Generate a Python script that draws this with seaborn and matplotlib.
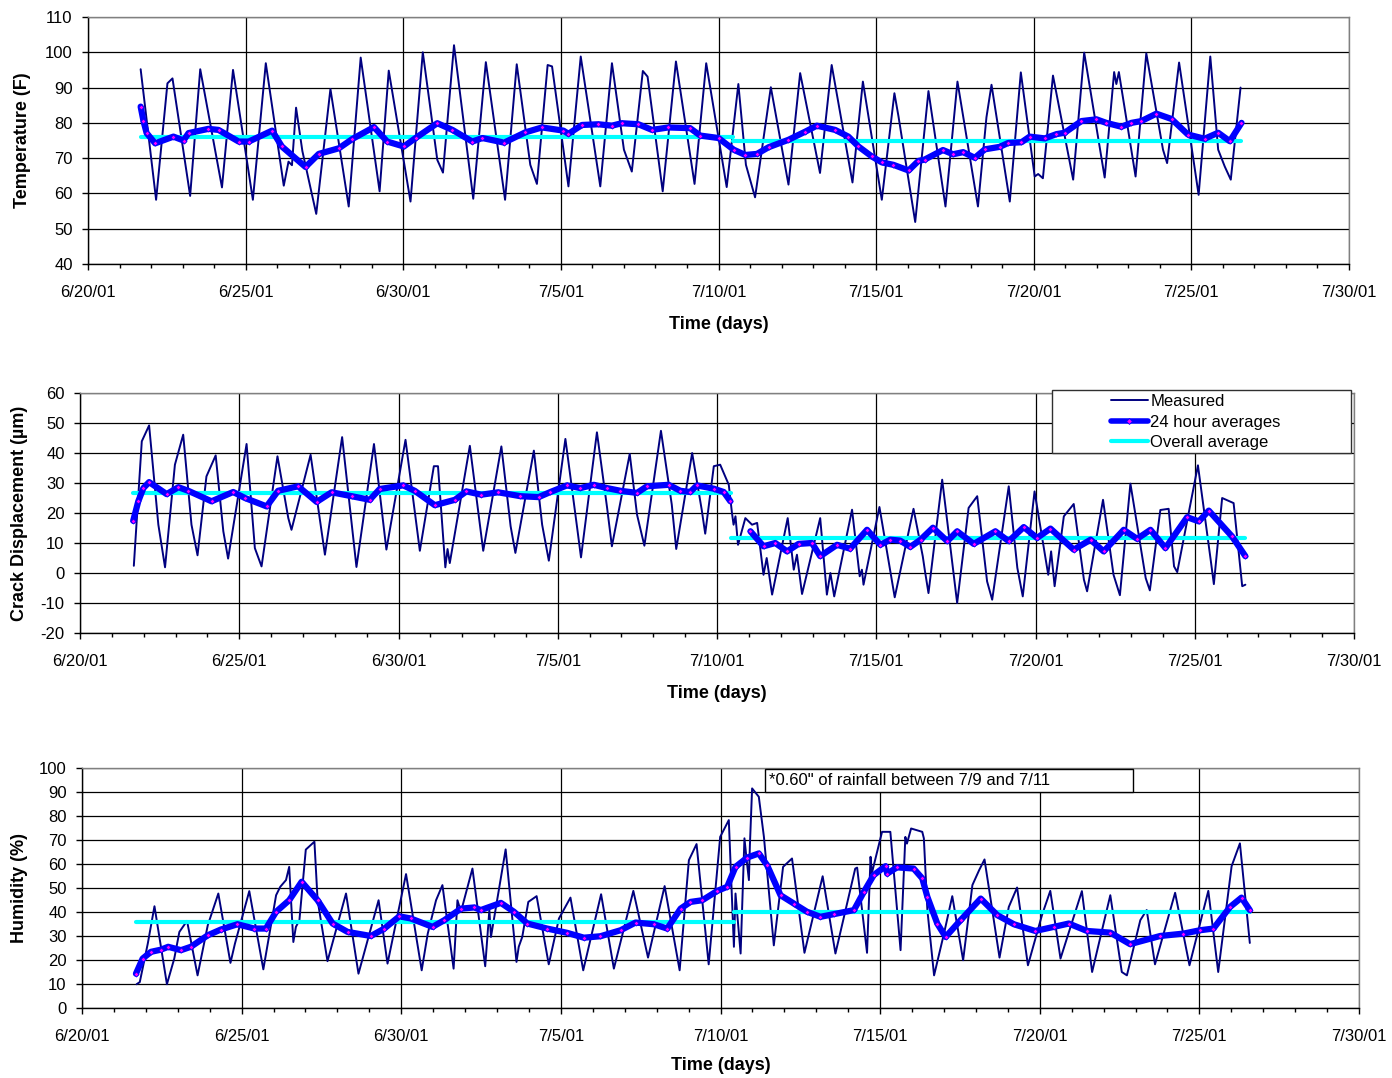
import numpy as np
import pandas as pd
import matplotlib
matplotlib.use("Agg")
import matplotlib.pyplot as plt
from matplotlib.patches import Rectangle
from matplotlib.lines import Line2D
import seaborn as sns

# ---------------- data (days after 6/20/01) ----------------
START = "2001-06-20"
x_tick_labels = ["6/20/01", "6/25/01", "6/30/01", "7/5/01", "7/10/01",
                 "7/15/01", "7/20/01", "7/25/01", "7/30/01"]

temp_yticks = [40, 50, 60, 70, 80, 90, 100, 110]
crack_yticks = [-20, -10, 0, 10, 20, 30, 40, 50, 60]
hum_yticks = [0, 10, 20, 30, 40, 50, 60, 70, 80, 90, 100]

# Temperature - measured (peaks / troughs / shoulders)
temp_meas_day = [1.67, 2.16, 2.52, 2.68, 3.24, 3.56, 4.25, 4.60, 5.23, 5.64, 6.21, 6.36, 6.47,
                 6.60, 6.80, 7.24, 7.69, 8.27, 8.65, 9.25, 9.54, 10.23, 10.62, 11.08, 11.26,
                 11.61, 12.22, 12.62, 13.23, 13.60, 14.03, 14.24, 14.58, 14.72, 15.24, 15.63,
                 16.25, 16.62, 17.00, 17.25, 17.60, 17.75, 18.23, 18.65, 19.24, 19.61, 20.26,
                 20.63, 20.87, 21.16, 21.66, 22.22, 22.59, 23.22, 23.59, 24.25, 24.58, 25.18,
                 25.58, 25.71, 26.24, 26.66, 27.20, 27.58, 28.23, 28.50, 28.66, 29.24, 29.59,
                 30.03, 30.14, 30.29, 30.61, 31.25, 31.60, 32.25, 32.55, 32.62, 32.70, 33.23,
                 33.57, 34.10, 34.23, 34.61, 35.23, 35.60, 35.85, 36.06, 36.25, 36.56]
temp_meas_val = [95.2, 58.2, 91.2, 92.6, 59.3, 95.2, 61.7, 95.0, 58.2, 96.9, 62.2, 69.0, 68.0,
                 84.3, 72.0, 54.2, 89.6, 56.3, 98.5, 60.6, 94.8, 57.7, 100.0, 69.5, 65.9,
                 102.0, 58.5, 97.2, 58.2, 96.6, 68.1, 62.7, 96.4, 96.0, 62.0, 98.8,
                 62.0, 96.9, 72.4, 66.2, 94.7, 93.1, 60.6, 97.4, 62.7, 96.9, 61.8,
                 91.0, 68.1, 58.9, 90.1, 62.5, 94.1, 65.8, 96.4, 63.1, 91.7, 58.2,
                 88.4, 81.8, 51.9, 89.0, 56.3, 91.7, 56.3, 81.6, 90.8, 57.7, 94.3,
                 64.8, 65.5, 64.3, 93.4, 63.9, 99.9, 64.5, 94.4, 91.0, 94.4, 64.8,
                 99.7, 72.4, 68.6, 97.1, 59.6, 98.8, 72.4, 67.6, 63.9, 90.0]

# Temperature - 24 hour averages
temp_avg_day = [1.67, 1.76, 1.86, 2.13, 2.71, 3.03, 3.19, 3.82, 4.14, 4.78, 5.10, 5.84, 6.15,
                6.90, 7.32, 7.96, 8.38, 9.07, 9.49, 10.02, 10.39, 11.08, 11.56, 12.19, 12.51,
                13.20, 13.87, 14.40, 15.08, 15.24, 15.67, 16.19, 16.62, 16.93, 17.46, 17.89,
                18.41, 19.10, 19.42, 20.00, 20.48, 20.85, 21.22, 21.59, 22.22, 22.75, 23.12,
                23.70, 24.12, 24.44, 24.86, 25.18, 25.55, 26.03, 26.34, 26.54, 27.12, 27.44,
                27.76, 28.13, 28.45, 28.92, 29.19, 29.61, 29.87, 30.35, 30.72, 30.98, 31.51,
                31.99, 32.30, 32.78, 33.10, 33.41, 33.89, 34.37, 34.89, 35.42, 35.85, 36.22,
                36.59]
temp_avg_val = [84.6, 80.5, 77.1, 74.2, 76.1, 75.0, 77.1, 78.3, 78.0, 74.7, 74.7, 77.8, 73.3,
                67.5, 71.2, 72.8, 75.4, 78.8, 74.7, 73.3, 75.7, 79.9, 78.0, 74.7, 75.7,
                74.4, 77.3, 78.7, 77.8, 76.9, 79.4, 79.6, 79.2, 79.9, 79.6, 78.0,
                78.7, 78.5, 76.4, 75.7, 72.4, 70.9, 71.2, 73.1, 75.2, 77.5, 79.2,
                78.0, 76.1, 73.3, 70.5, 68.8, 68.1, 66.5, 69.2, 69.6, 72.3, 71.1,
                71.7, 70.1, 72.5, 73.2, 74.3, 74.5, 76.1, 75.6, 76.8, 77.2, 80.5,
                81.0, 80.0, 78.9, 80.0, 80.5, 82.6, 81.1, 76.7, 75.5, 77.2, 74.8,
                80.0]

# Temperature - overall averages (two periods)
temp_overall_day = [[1.67, 20.45], [20.45, 36.59]]
temp_overall_val = [76.1, 74.9]

# Crack displacement - measured
crack_meas_day = [1.69, 1.94, 2.17, 2.46, 2.67, 2.98, 3.24, 3.50, 3.69, 3.97, 4.26, 4.50, 4.65,
                  5.23, 5.49, 5.70, 6.20, 6.54, 6.64, 7.24, 7.69, 8.23, 8.68, 9.23, 9.62,
                  10.22, 10.67, 11.11, 11.24, 11.47, 11.54, 11.61, 12.24, 12.66, 13.23, 13.52,
                  13.67, 14.25, 14.51, 14.72, 15.24, 15.61, 15.73, 16.23, 16.55, 16.70, 17.26,
                  17.49, 17.72, 18.24, 18.58, 18.72, 19.22, 19.52, 19.63, 19.90, 20.10, 20.37,
                  20.47, 20.52, 20.58, 20.66, 20.89, 21.10, 21.26, 21.46, 21.56, 21.73, 22.22,
                  22.41, 22.51, 22.67, 23.24, 23.45, 23.56, 23.68, 24.24, 24.48, 24.55, 24.60,
                  25.10, 25.58, 26.17, 26.46, 26.53, 26.64, 27.07, 27.54, 27.90, 28.17, 28.48,
                  28.64, 29.16, 29.43, 29.60, 29.97, 30.40, 30.49, 30.60, 30.89, 31.20, 31.52,
                  31.62, 32.12, 32.45, 32.65, 32.98, 33.46, 33.59, 33.92, 34.18, 34.35, 34.45,
                  35.10, 35.50, 35.60, 35.86, 36.22, 36.49, 36.59]
crack_meas_val = [2.4, 43.9, 49.2, 16.1, 1.9, 36.1, 46.1, 16.1, 5.9, 32.2, 39.2, 13.9, 4.8,
                  43.0, 8.3, 2.2, 38.9, 18.3, 14.4, 39.4, 6.1, 45.3, 2.0, 43.0, 7.8,
                  44.4, 7.4, 35.6, 35.6, 1.9, 8.0, 3.3, 42.4, 7.4, 42.2, 15.6,
                  6.7, 40.8, 16.1, 4.1, 44.7, 15.0, 5.2, 46.9, 21.7, 8.9, 39.7,
                  19.4, 9.1, 47.4, 22.8, 8.0, 40.0, 21.1, 13.1, 35.6, 36.1, 29.4,
                  20.0, 16.1, 18.9, 9.4, 18.3, 16.1, 16.7, -0.6, 5.0, -7.2, 18.3,
                  1.1, 6.1, -7.0, 18.3, -7.2, 0.0, -7.8, 21.1, -1.1, 1.1, -3.9,
                  22.0, -8.1, 21.4, 5.6, 0.6, -6.7, 31.1, -10.0, 21.7, 25.6, -2.8,
                  -8.9, 28.9, 1.7, -7.8, 27.2, -0.6, 7.2, -4.4, 18.9, 23.0, -2.2,
                  -6.1, 24.4, -0.6, -7.4, 29.8, -1.7, -5.8, 21.0, 21.4, 2.2, 0.3,
                  35.9, 4.4, -3.7, 25.0, 23.3, -4.4, -3.9]

# Crack displacement - 24 hour averages (two periods, gap between)
crack_avg1_day = [1.67, 1.83, 1.99, 2.17, 2.72, 3.09, 3.40, 4.13, 4.81, 5.18, 5.86, 6.22, 6.85,
                  7.43, 7.90, 8.53, 9.10, 9.41, 10.15, 10.51, 11.14, 11.77, 12.13, 12.60, 13.13,
                  13.83, 14.40, 14.77, 15.29, 15.71, 16.13, 16.55, 16.97, 17.49, 17.80, 18.48,
                  18.85, 19.16, 19.37, 19.90, 20.21, 20.42]
crack_avg1_val = [17.4, 23.9, 28.3, 30.3, 26.3, 28.6, 27.4, 23.9, 27.0, 25.0, 22.2, 27.4, 28.9,
                  23.7, 26.9, 25.6, 24.4, 28.0, 29.2, 27.4, 22.6, 24.4, 27.2, 26.1, 26.9,
                  25.6, 25.3, 27.0, 29.2, 28.3, 29.4, 28.3, 27.4, 26.7, 28.9, 29.4,
                  27.4, 27.0, 29.2, 28.1, 27.0, 23.9]
crack_avg2_day = [21.05, 21.46, 21.83, 22.20, 22.56, 22.98, 23.24, 23.77, 24.18, 24.71, 25.13,
                  25.44, 25.75, 26.07, 26.39, 26.78, 27.23, 27.54, 28.06, 28.74, 29.16, 29.63,
                  30.05, 30.47, 31.20, 31.73, 32.14, 32.77, 33.19, 33.61, 34.08, 34.76, 35.13,
                  35.44, 36.17, 36.59]
crack_avg2_val = [13.9, 8.9, 10.0, 7.2, 9.7, 10.0, 5.6, 9.4, 8.1, 14.4, 9.4,
                  11.1, 10.8, 8.7, 11.1, 15.1, 10.6, 13.9, 9.7, 13.9, 10.6, 15.3,
                  11.7, 14.8, 7.8, 11.1, 7.2, 14.4, 11.4, 14.4, 8.3, 18.6, 17.2,
                  20.8, 12.2, 5.6]

crack_overall_day = [[1.67, 20.45], [20.45, 36.59]]
crack_overall_val = [26.7, 11.7]

# Humidity - measured
hum_meas_day = [1.71, 1.81, 2.06, 2.27, 2.66, 2.89, 3.05, 3.29, 3.62, 3.94, 4.27, 4.65, 4.79,
                5.24, 5.68, 6.08, 6.21, 6.39, 6.49, 6.62, 6.70, 6.81, 7.01, 7.28, 7.38,
                7.69, 8.27, 8.66, 9.29, 9.57, 10.15, 10.64, 10.83, 11.09, 11.29, 11.64,
                11.76, 11.87, 12.23, 12.63, 12.76, 12.81, 13.27, 13.61, 13.68, 13.79, 13.98,
                14.24, 14.62, 14.94, 15.30, 15.70, 16.26, 16.66, 17.27, 17.73, 18.25, 18.72,
                19.01, 19.25, 19.63, 19.99, 20.26, 20.42, 20.47, 20.63, 20.75, 20.82, 20.89,
                20.92, 20.99, 21.20, 21.36, 21.67, 21.96, 22.24, 22.63, 23.20, 23.60, 24.22,
                24.28, 24.59, 24.70, 24.74, 25.06, 25.32, 25.64, 25.79, 25.84, 25.97, 26.32,
                26.37, 26.48, 26.69, 27.00, 27.26, 27.60, 27.89, 28.10, 28.27, 28.74, 29.03,
                29.29, 29.63, 30.07, 30.33, 30.65, 31.32, 31.64, 32.21, 32.57, 32.73, 33.15,
                33.35, 33.61, 34.24, 34.69, 35.28, 35.59, 36.01, 36.27, 36.58]
hum_meas_val = [9.9, 10.8, 26.8, 42.4, 9.9, 20.6, 31.7, 36.3, 13.6, 34.5, 47.7, 18.8, 26.8,
                48.7, 16.1, 47.0, 50.5, 53.3, 58.8, 27.5, 33.8, 36.6, 66.0, 69.3, 44.9,
                19.5, 47.7, 14.3, 44.9, 18.5, 55.8, 15.7, 31.0, 44.9, 51.2, 16.4,
                44.9, 40.1, 58.1, 17.4, 40.8, 29.6, 66.1, 19.2, 25.5, 29.6, 44.2,
                46.6, 18.2, 37.3, 46.0, 15.7, 47.4, 16.4, 48.8, 21.0, 50.8, 15.7,
                61.6, 68.3, 18.2, 71.3, 78.3, 25.5, 47.7, 22.7, 70.7, 61.6, 53.3,
                67.5, 91.5, 88.0, 71.3, 26.1, 58.8, 62.3, 23.0, 54.9, 22.7, 58.1,
                58.5, 23.0, 63.0, 56.1, 73.4, 73.4, 24.1, 71.3, 68.5, 74.8, 73.4,
                70.7, 40.8, 13.6, 31.0, 46.6, 19.9, 51.2, 57.4, 61.9, 21.0, 42.1,
                50.2, 17.8, 38.7, 48.8, 20.6, 48.7, 15.0, 47.0, 15.0, 13.6, 36.6,
                40.8, 18.2, 48.0, 17.8, 48.8, 15.0, 59.1, 68.6, 27.1]

# Humidity - 24 hour averages
hum_avg_day = [1.69, 1.90, 2.16, 2.47, 2.70, 3.10, 3.41, 3.94, 4.35, 4.87, 5.40, 5.76, 6.08,
               6.49, 6.88, 7.38, 7.85, 8.32, 9.05, 9.47, 9.94, 10.30, 10.98, 11.35, 11.87,
               12.29, 12.49, 13.12, 13.53, 13.95, 14.57, 15.20, 15.72, 16.24, 16.87, 17.34,
               17.91, 18.33, 18.75, 19.06, 19.43, 19.90, 20.21, 20.47, 20.84, 21.20, 21.46,
               21.88, 22.30, 22.71, 23.13, 23.55, 24.18, 24.49, 24.80, 25.17, 25.22, 25.53,
               26.05, 26.32, 26.48, 26.79, 27.05, 27.52, 28.15, 28.67, 29.19, 29.86, 30.44,
               30.91, 31.48, 32.21, 32.83, 33.77, 34.50, 35.02, 35.44, 35.96, 36.32, 36.58]
hum_avg_val = [14.3, 20.6, 23.4, 24.3, 25.5, 24.1, 25.5, 30.3, 32.7, 34.9, 33.1, 33.1, 40.1,
               44.9, 52.6, 44.9, 35.2, 31.7, 30.0, 33.1, 38.2, 37.3, 33.8, 36.6, 41.4,
               41.9, 40.8, 43.8, 40.1, 35.2, 33.1, 31.3, 29.3, 29.9, 32.4, 35.6,
               34.9, 33.1, 41.4, 44.2, 44.9, 48.8, 50.5, 58.8, 62.7, 64.4, 59.5,
               47.0, 43.5, 40.1, 38.0, 39.1, 40.8, 48.4, 55.4, 59.1, 56.0, 58.6,
               58.1, 54.0, 46.3, 35.2, 29.6, 36.6, 45.6, 38.7, 34.9, 32.1, 33.8,
               35.2, 32.1, 31.4, 26.6, 30.0, 31.0, 32.4, 33.1, 42.1, 46.0, 40.8]

hum_overall_day = [[1.69, 20.42], [20.42, 36.58]]
hum_overall_val = [36.0, 40.1]

legend_labels = ["Measured", "24 hour averages", "Overall average"]
note_text = '*0.60" of rainfall between 7/9 and 7/11'

# ---------------- styling ----------------
NAVY = "#000080"
BLUE = "#0000FF"
MAGENTA = "#FF00FF"
CYAN = "#00FFFF"

sns.set_theme(style="white")
plt.rcParams["font.family"] = ["Liberation Sans", "DejaVu Sans"]
plt.rcParams["axes.unicode_minus"] = False

base = pd.Timestamp(START)


def to_dates(days):
    return base + pd.to_timedelta(np.asarray(days, dtype=float), unit="D")


fig = plt.figure(figsize=(13.92, 10.78), dpi=100)
fig.patch.set_facecolor("white")

W, H = 1392.0, 1078.0
boxes = [(88, 17, 1349, 264), (80, 393, 1354, 633), (82, 768, 1359, 1008)]
axes = []
for (l, t, r, b) in boxes:
    axes.append(fig.add_axes([l / W, 1 - b / H, (r - l) / W, (b - t) / H]))

major_dates = pd.to_datetime(x_tick_labels, format="%m/%d/%y")
minor_dates = pd.date_range(major_dates[0], major_dates[-1], freq="D")


def draw_panel(ax, meas_d, meas_v, avg_parts, overall_d, overall_v, yticks, ylabel,
               ylab_x, xlab_y):
    sns.lineplot(x=to_dates(meas_d), y=meas_v, ax=ax, color=NAVY, linewidth=1.4,
                 estimator=None, sort=False, zorder=2)
    for seg_d, seg_v in zip(overall_d, overall_v):
        sns.lineplot(x=to_dates(seg_d), y=[seg_v, seg_v], ax=ax, color=CYAN,
                     linewidth=3.0, estimator=None, sort=False, zorder=3)
    for d, v in avg_parts:
        sns.lineplot(x=to_dates(d), y=v, ax=ax, color=BLUE, linewidth=4.5,
                     estimator=None, sort=False, zorder=4, marker="D",
                     markersize=2.6, markerfacecolor=MAGENTA,
                     markeredgecolor=BLUE, markeredgewidth=0.6)
    ax.set_xlim(major_dates[0], major_dates[-1])
    ax.set_ylim(yticks[0], yticks[-1])
    ax.set_yticks(yticks)
    ax.set_xticks(major_dates)
    ax.set_xticklabels(x_tick_labels)
    ax.set_xticks(minor_dates, minor=True)
    ax.grid(True, which="major", axis="both", color="#000000", linewidth=0.9)
    ax.set_axisbelow(True)
    for s in ["left", "bottom"]:
        ax.spines[s].set_color("black")
        ax.spines[s].set_linewidth(1.0)
    for s in ["top", "right"]:
        ax.spines[s].set_color("#808080")
        ax.spines[s].set_linewidth(1.0)
    ax.tick_params(axis="both", which="major", direction="out", length=4, width=1,
                   color="black", labelsize=12, labelcolor="black")
    ax.tick_params(axis="x", which="major", pad=11)
    ax.tick_params(axis="y", which="major", pad=7, left=True)
    ax.tick_params(axis="x", which="minor", direction="out", length=3, width=1,
                   color="black", bottom=True)
    ax.tick_params(axis="x", bottom=True)
    ax.set_xlabel("Time (days)", fontsize=13, fontweight="bold", color="black")
    ax.set_ylabel(ylabel, fontsize=13, fontweight="bold", color="black")
    ax.xaxis.set_label_coords(0.5, xlab_y)
    ax.xaxis.label.set_va("top")
    ax.yaxis.set_label_coords(ylab_x, 0.5)


draw_panel(axes[0], temp_meas_day, temp_meas_val, [(temp_avg_day, temp_avg_val)],
           temp_overall_day, temp_overall_val, temp_yticks, "Temperature (F)",
           (31 - 88) / 1261, -0.21)
draw_panel(axes[1], crack_meas_day, crack_meas_val,
           [(crack_avg1_day, crack_avg1_val), (crack_avg2_day, crack_avg2_val)],
           crack_overall_day, crack_overall_val, crack_yticks,
           "Crack Displacement (\u00b5m)", (28 - 80) / 1274, -0.217)
draw_panel(axes[2], hum_meas_day, hum_meas_val, [(hum_avg_day, hum_avg_val)],
           hum_overall_day, hum_overall_val, hum_yticks, "Humidity (%)",
           (28 - 82) / 1277, -0.205)

# Legend box (panel 2)
fig.add_artist(Rectangle((1052 / W, 1 - 453 / H), (1351 - 1052) / W, (453 - 390) / H,
                         transform=fig.transFigure, facecolor="white",
                         edgecolor="#303030", linewidth=1.0, zorder=3))
handles = [
    Line2D([], [], color=NAVY, linewidth=1.4),
    Line2D([], [], color=BLUE, linewidth=4.0, marker="D", markersize=3.0,
           markerfacecolor=MAGENTA, markeredgecolor=BLUE, markeredgewidth=0.6),
    Line2D([], [], color=CYAN, linewidth=3.0),
]
leg = fig.legend(handles, legend_labels, loc="upper left",
                 bbox_to_anchor=(1111 / W, 1 - 394 / H), frameon=False, fontsize=12,
                 handlelength=2.2, handletextpad=0.15, labelspacing=0.33,
                 borderpad=0.0, borderaxespad=0.0, markerscale=1.0)
leg.set_zorder(5)
for t in leg.get_texts():
    t.set_color("black")

# Rainfall note (panel 3)
fig.add_artist(Rectangle((765 / W, 1 - 792 / H), (1133 - 765) / W, (792 - 769) / H,
                         transform=fig.transFigure, facecolor="white",
                         edgecolor="black", linewidth=1.0, zorder=3))
fig.text(769 / W, 1 - 780.5 / H, note_text, fontsize=12, color="black",
         va="center", ha="left", zorder=4)

fig.savefig("out.png", dpi=100, facecolor="white")
